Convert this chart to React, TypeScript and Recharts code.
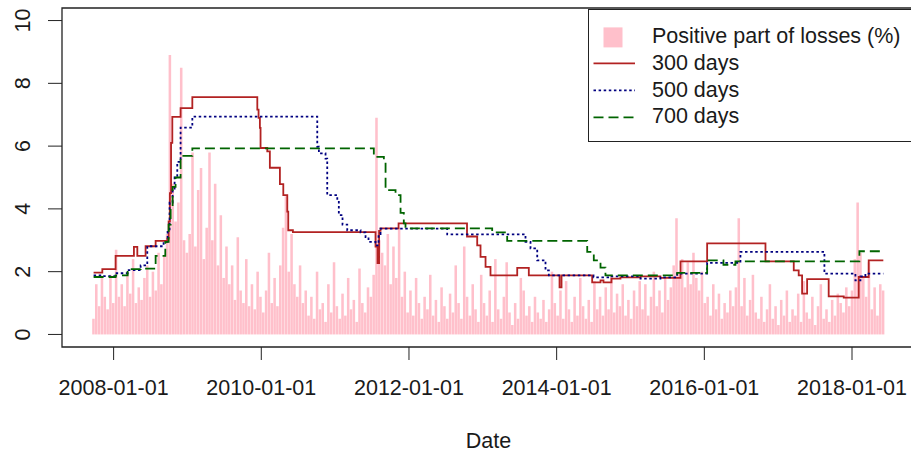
import React from 'react'
import { ComposedChart, Bar, Line, XAxis, YAxis, Legend, ReferenceArea } from 'recharts'

const FONT = '"Liberation Sans", Arial, sans-serif'
const TEXT = '#1a1a1a'

// positive part of losses (%), one value per 14 days starting 2007-09-24 (x in decimal years)
const lossStart = 2007.729
const lossStepYears = 14 / 365.25
const lossValues = [
  0.5, 1.6, 0.9, 1.8, 1.2, 0.8, 1.9, 1.0,
  2.7, 1.2, 1.6, 0.9, 2.0, 1.3, 2.4, 1.0, 1.5, 1.1,
  1.8, 2.2, 1.2, 2.0, 1.4, 2.6, 1.6, 2.5,
  3.2, 8.9, 4.8, 3.6, 4.2,
  8.5, 3.0, 2.6,
  3.2, 5.8, 2.8, 4.6, 5.3, 2.4, 3.4,
  5.8, 3.0, 4.8, 2.2, 3.8, 1.8, 2.8,
  1.6, 2.2, 1.1, 3.1, 1.4, 1.0, 2.4, 0.9, 1.6, 0.8, 2.0, 1.2, 0.7,
  1.4, 2.6, 1.0, 1.8, 0.9, 2.2, 3.4, 4.4,
  2.0, 3.2, 1.6, 1.2, 2.2, 1.0, 1.4,
  0.6, 1.2, 0.5, 2.0, 0.8, 1.0, 0.4, 1.6, 0.7, 2.3, 0.9, 0.5,
  1.3, 0.6, 1.8, 0.8, 1.1, 0.4, 2.1, 1.0, 0.7, 1.5, 1.2, 1.9,
  6.9, 3.0, 2.6,
  2.2, 3.2, 1.6, 2.8, 1.8, 3.4,
  1.2, 2.0, 0.7, 1.4, 0.6, 1.8, 1.0, 0.5, 1.2, 0.8, 1.9, 0.6, 1.1, 0.4, 1.5, 0.9, 0.5, 1.3,
  0.7, 2.2, 1.0, 0.5, 2.8, 1.2, 0.6, 1.6, 0.8, 0.4, 1.9, 1.0,
  0.6, 1.4, 0.4, 2.4, 0.8, 0.5, 1.2, 2.3, 0.7, 0.3, 1.0, 0.5, 1.8, 1.4, 0.6, 0.9, 0.4, 1.2, 0.7,
  0.5, 1.1, 0.4, 0.8, 2.0, 1.0, 0.6, 1.4, 0.5, 1.7, 0.8, 0.4, 1.2, 0.6, 1.8, 0.9, 0.5, 1.1, 0.4, 1.7, 0.8,
  1.2, 0.6, 1.5, 0.8, 1.9, 0.7, 1.3, 0.9, 1.6, 0.6, 1.1, 0.5, 1.4, 0.9, 1.7,
  0.8, 1.6, 0.6, 1.2, 2.0, 0.9, 1.4, 0.7, 1.8, 1.1, 1.5, 2.2,
  3.7, 2.0, 2.4, 1.5, 2.3, 1.6, 2.6, 1.8,
  1.4, 2.0, 1.0, 1.2, 0.6, 1.6, 0.8, 1.3, 0.5, 1.0, 0.7, 1.4, 0.9, 1.5,
  3.7,
  0.9, 1.8, 0.6, 1.1, 1.9, 0.7,
  0.5, 1.2, 0.4, 0.8, 1.6, 0.5, 0.9, 0.3, 1.1, 0.6, 1.4, 0.4, 0.8,
  0.6, 1.3, 0.4, 1.7, 0.7, 0.5, 1.2, 0.3, 0.9, 1.6, 0.5, 0.8, 0.4, 1.1, 0.6, 1.3, 1.0, 0.7, 1.5, 0.9, 1.4,
  2.4, 4.2, 2.6, 1.8,
  1.2, 2.3, 0.8, 1.5, 0.6, 1.6, 1.4,
]

// step lines: [decimal year, level] at each change
const line300 = [
  [2007.729, 1.97], [2007.847, 2.08], [2008.027, 2.5], [2008.275, 2.79], [2008.321, 2.5],
  [2008.433, 2.81], [2008.569, 2.98], [2008.727, 3.05], [2008.745, 3.6], [2008.762, 4.5],
  [2008.778, 6.1], [2008.795, 6.93], [2008.907, 7.21], [2009.066, 7.56], [2009.946, 7.16],
  [2009.963, 6.9], [2009.981, 6.58], [2009.99, 5.94], [2010.081, 5.83], [2010.116, 5.31],
  [2010.252, 4.79], [2010.298, 4.44], [2010.352, 3.91], [2010.365, 3.32], [2010.428, 3.26],
  [2011.547, 2.8], [2011.574, 2.27], [2011.595, 3.3], [2011.615, 3.38], [2011.859, 3.54],
  [2012.786, 3.12], [2012.924, 2.84], [2012.969, 2.47], [2013.037, 2.15], [2013.104, 1.88],
  [2013.466, 2.12], [2013.623, 1.88], [2014.039, 1.5], [2014.066, 1.88], [2014.481, 1.66],
  [2014.594, 1.72], [2014.634, 1.66], [2014.742, 1.78], [2014.864, 1.82], [2015.135, 1.85],
  [2015.406, 1.8], [2015.677, 2.33], [2016.038, 2.9], [2016.828, 2.33], [2017.211, 2.04],
  [2017.278, 1.88], [2017.324, 1.3], [2017.392, 1.76], [2017.684, 1.21], [2017.888, 1.17],
  [2018.091, 1.83], [2018.226, 2.36], [2018.424, 2.36],
]

const line500 = [
  [2007.729, 1.88], [2007.847, 1.86], [2008.027, 1.95], [2008.19, 2.05], [2008.366, 2.2],
  [2008.456, 2.81], [2008.677, 2.95], [2008.731, 3.3], [2008.758, 4.2], [2008.799, 4.6],
  [2008.826, 5.0], [2008.862, 5.5], [2008.907, 6.59], [2009.066, 6.94], [2010.758, 5.98],
  [2010.78, 5.77], [2010.87, 5.6], [2010.893, 4.44], [2011.029, 4.28], [2011.05, 3.8],
  [2011.1, 3.5], [2011.164, 3.32], [2011.344, 3.25], [2011.412, 3.1], [2011.452, 2.95],
  [2011.547, 2.84], [2011.588, 3.2], [2011.615, 3.37], [2012.518, 3.19], [2013.578, 2.95],
  [2013.646, 2.74], [2013.737, 2.36], [2013.849, 2.04], [2013.894, 1.88], [2014.499, 1.82],
  [2014.729, 1.85], [2015.135, 1.78], [2015.406, 1.82], [2015.632, 1.94], [2016.038, 2.28],
  [2016.489, 2.63], [2017.626, 1.94], [2018.046, 1.72], [2018.114, 1.85], [2018.181, 1.94],
  [2018.424, 1.94],
]

const line700 = [
  [2007.729, 1.83], [2008.027, 1.88], [2008.19, 2.08], [2008.366, 2.1], [2008.569, 2.5],
  [2008.7, 2.95], [2008.745, 3.5], [2008.772, 4.0], [2008.799, 4.7], [2008.839, 5.0],
  [2008.907, 5.69], [2009.066, 5.93], [2011.524, 5.66], [2011.66, 5.5], [2011.683, 4.6],
  [2011.818, 4.44], [2011.886, 3.87], [2011.93, 3.54], [2011.953, 3.38], [2013.127, 3.25],
  [2013.33, 2.98], [2014.414, 2.63], [2014.503, 2.36], [2014.594, 2.13], [2014.661, 1.88],
  [2015.632, 1.96], [2016.038, 2.36], [2016.259, 2.22], [2016.421, 2.33], [2018.1, 2.65],
  [2018.424, 2.65],
]

const xTicks = [2008, 2010, 2012, 2014, 2016, 2018]
const yTicks = [0, 2, 4, 6, 8, 10]
const legendLabels = ['Positive part of losses (%)', '300 days', '500 days', '700 days']

const X_DOMAIN = [2007.301, 2018.853]
const Y_DOMAIN = [-0.4, 10.4]
const PLOT_W = 853

const COLORS = {
  loss: '#FFC0CB',
  d300: '#B22222',
  d500: '#000080',
  d700: '#006400',
}

const pinkData = lossValues.map((v, i) => ({ t: lossStart + i * lossStepYears, loss: v }))
const toRows = (pts: number[][]) => pts.map(([t, v]) => ({ t, v }))

// the bars sit on a hidden band axis; pad it so band centres fall on the dates
const span = X_DOMAIN[1] - X_DOMAIN[0]
const lossEnd = lossStart + (lossValues.length - 1) * lossStepYears
const band = ((lossEnd - lossStart) / span) * PLOT_W / (lossValues.length - 1)
const barPadding = {
  left: ((lossStart - X_DOMAIN[0]) / span) * PLOT_W - band / 2,
  right: ((X_DOMAIN[1] - lossEnd) / span) * PLOT_W - band / 2,
}

const XTick = ({ x, payload }: any) => (
  <text x={x} y={395} textAnchor="middle" fontSize={21.5} fontFamily={FONT} fill={TEXT}>
    {`${payload.value}-01-01`}
  </text>
)

const YTick = ({ y, payload }: any) => (
  <text x={30} y={y} transform={`rotate(-90 30 ${y})`} textAnchor="middle" fontSize={21.5} fontFamily={FONT} fill={TEXT}>
    {payload.value}
  </text>
)

const legendSymbol = (k: number) => {
  if (k === 0) return <rect x={14.5} y={3.4} width={19} height={20} fill={COLORS.loss} />
  const stroke = [COLORS.d300, COLORS.d500, COLORS.d700][k - 1]
  const dash = ['', '2.5 2.6', '10 5'][k - 1]
  return <line x1={4.5} x2={46} y1={13.35} y2={13.35} stroke={stroke} strokeWidth={1.8} strokeDasharray={dash || undefined} />
}

const renderLegend = () => (
  <div style={{ width: 340, height: 133, border: '1.5px solid #222', boxSizing: 'border-box', background: '#fff', position: 'relative', fontFamily: FONT, fontSize: 21.5, color: TEXT }}>
    {legendLabels.map((label, k) => (
      <div key={label} style={{ position: 'absolute', left: 0, top: 13.5 + k * 26.7, height: 26.7, display: 'flex', alignItems: 'center', whiteSpace: 'nowrap' }}>
        <svg width={63} height={26.7} style={{ flex: 'none' }}>{legendSymbol(k)}</svg>
        <span>{label}</span>
      </div>
    ))}
  </div>
)

export default function App() {
  return (
    <div style={{ position: 'absolute', left: 0, top: 0, width: 911, height: 457, overflow: 'hidden', background: '#fff' }}>
      <ComposedChart width={920} height={457} data={pinkData} margin={{ top: 8, right: 5, bottom: 0, left: 0 }} barCategoryGap={0}>
        <XAxis
          xAxisId="date"
          type="number"
          dataKey="t"
          domain={X_DOMAIN}
          ticks={xTicks}
          interval={0}
          allowDataOverflow
          height={110}
          axisLine={false}
          tickSize={13}
          tickLine={{ stroke: '#222' }}
          tick={XTick}
          label={{ value: 'Date', position: 'insideBottom', offset: 9, fill: TEXT, fontSize: 21.5, fontFamily: FONT }}
        />
        <XAxis xAxisId="bars" type="category" dataKey="t" orientation="top" height={0} hide padding={barPadding} />
        <YAxis
          type="number"
          domain={Y_DOMAIN}
          ticks={yTicks}
          interval={0}
          allowDataOverflow
          width={62}
          axisLine={false}
          tickSize={14}
          tickLine={{ stroke: '#222' }}
          tick={YTick}
        />
        <Legend
          layout="vertical"
          align="center"
          verticalAlign="middle"
          content={renderLegend}
          wrapperStyle={{ left: 588, top: 9, width: 340, height: 133 }}
        />
        <Bar xAxisId="bars" dataKey="loss" fill={COLORS.loss} barSize={band + 0.5} isAnimationActive={false} />
        <Line xAxisId="date" data={toRows(line300)} dataKey="v" type="stepAfter" stroke={COLORS.d300} strokeWidth={1.8} dot={false} activeDot={false} isAnimationActive={false} />
        <Line xAxisId="date" data={toRows(line500)} dataKey="v" type="stepAfter" stroke={COLORS.d500} strokeWidth={1.8} strokeDasharray="2.5 2.6" dot={false} activeDot={false} isAnimationActive={false} />
        <Line xAxisId="date" data={toRows(line700)} dataKey="v" type="stepAfter" stroke={COLORS.d700} strokeWidth={1.8} strokeDasharray="10 5" dot={false} activeDot={false} isAnimationActive={false} />
        <ReferenceArea xAxisId="date" x1={X_DOMAIN[0]} x2={X_DOMAIN[1]} y1={Y_DOMAIN[0]} y2={Y_DOMAIN[1]} fill="none" fillOpacity={0} stroke="#222" strokeWidth={1.3} ifOverflow="visible" />
      </ComposedChart>
    </div>
  )
}
